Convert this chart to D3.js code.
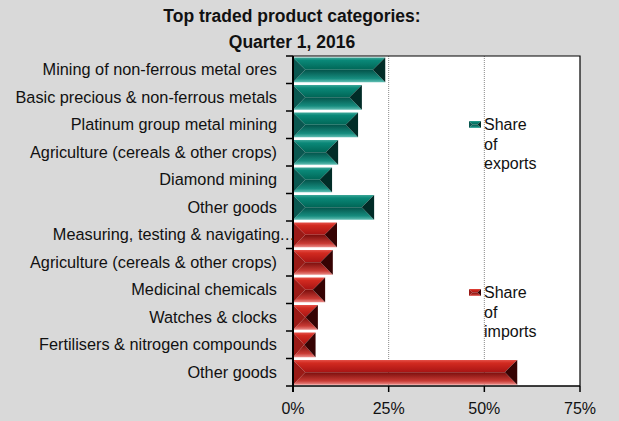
<!DOCTYPE html>
<html>
<head>
<meta charset="utf-8">
<script src="https://cdn.jsdelivr.net/npm/d3@7"></script>
<style>
  html, body { margin: 0; padding: 0; background: #d9d9d9; }
  svg { display: block; }
  text { font-family: "Liberation Sans", Arial, sans-serif; fill: #111; }
</style>
</head>
<body>
<svg id="chart" width="619" height="421"></svg>
<script>
const titleLines = ["Top traded product categories:", "Quarter 1, 2016"];
const exportCategories = [
  "Mining of non-ferrous metal ores",
  "Basic precious & non-ferrous metals",
  "Platinum group metal mining",
  "Agriculture (cereals & other crops)",
  "Diamond mining",
  "Other goods"
];
const exportValues = [24.1, 18.0, 17.0, 11.8, 10.2, 21.2];
const importCategories = [
  "Measuring, testing & navigating…",
  "Agriculture (cereals & other crops)",
  "Medicinal chemicals",
  "Watches & clocks",
  "Fertilisers & nitrogen compounds",
  "Other goods"
];
const importValues = [11.5, 10.4, 8.4, 6.5, 5.9, 58.6];
const xTicks = [0, 25, 50, 75];
const seriesNames = ["Share of exports", "Share of imports"];

const rows = [];
exportCategories.forEach((c, i) => rows.push({key: "e" + i, label: c, value: exportValues[i], s: 0}));
importCategories.forEach((c, i) => rows.push({key: "i" + i, label: c, value: importValues[i], s: 1}));

const svg = d3.select("#chart");
const M = {left: 293, right: 580, top: 56, bottom: 386};

const x = d3.scaleLinear().domain([0, 75]).range([M.left, M.right]);
const y = d3.scaleBand().domain(rows.map(d => d.key)).range([M.top, M.bottom])
  .paddingInner(0.1).paddingOuter(0.05);

const pal = [
  {top: ["#3fa89a", "#0a8878", "#006656"], bot: ["#03534a", "#168c7e", "#5fbdb2"], left: "#0a5750", right: "#012c27"},
  {top: ["#e5524a", "#d22a20", "#a81414"], bot: ["#7a0e0c", "#c83a34", "#eb8a86"], left: "#9a1a16", right: "#360303"}
];

const defs = svg.append("defs");
pal.forEach((p, i) => {
  const gt = defs.append("linearGradient").attr("id", "gt" + i).attr("x1", 0).attr("y1", 0).attr("x2", 0).attr("y2", 1);
  gt.append("stop").attr("offset", "0").attr("stop-color", p.top[0]);
  gt.append("stop").attr("offset", "0.25").attr("stop-color", p.top[1]);
  gt.append("stop").attr("offset", "1").attr("stop-color", p.top[2]);
  const gb = defs.append("linearGradient").attr("id", "gb" + i).attr("x1", 0).attr("y1", 0).attr("x2", 0).attr("y2", 1);
  gb.append("stop").attr("offset", "0").attr("stop-color", p.bot[0]);
  gb.append("stop").attr("offset", "0.7").attr("stop-color", p.bot[1]);
  gb.append("stop").attr("offset", "1").attr("stop-color", p.bot[2]);
});

svg.append("rect").attr("x", M.left).attr("y", M.top)
  .attr("width", M.right - M.left).attr("height", M.bottom - M.top).attr("fill", "#fff");

svg.append("g").selectAll("line").data(xTicks.filter(t => t > 0 && t < 75)).join("line")
  .attr("x1", d => x(d)).attr("x2", d => x(d)).attr("y1", M.top).attr("y2", M.bottom)
  .attr("stroke", "#8a8a8a").attr("stroke-width", 1).attr("stroke-dasharray", "1,1");

function bevel(g, x0, x1, y0, y1, s) {
  const p = pal[s];
  const m = (y0 + y1) / 2;
  const b = Math.min((y1 - y0) / 2, (x1 - x0) / 2);
  const pts = a => a.map(q => q.join(",")).join(" ");
  g.append("polygon").attr("points", pts([[x0, y0], [x1, y0], [x1 - b, m], [x0 + b, m]])).attr("fill", `url(#gt${s})`);
  g.append("polygon").attr("points", pts([[x0 + b, m], [x1 - b, m], [x1, y1], [x0, y1]])).attr("fill", `url(#gb${s})`);
  g.append("polygon").attr("points", pts([[x0, y0], [x0 + b, m], [x0, y1]])).attr("fill", p.left);
  g.append("polygon").attr("points", pts([[x1, y0], [x1 - b, m], [x1, y1]])).attr("fill", p.right);
}

const barsG = svg.append("g");
rows.forEach(d => {
  const g = barsG.append("g");
  bevel(g, x(0), x(d.value), y(d.key), y(d.key) + y.bandwidth(), d.s);
});

svg.append("path").attr("d", `M${M.left},${M.top}H${M.right}V${M.bottom}`)
  .attr("fill", "none").attr("stroke", "#000").attr("stroke-width", 1.2);

const yAxisG = svg.append("g");
yAxisG.append("line").attr("x1", M.left).attr("x2", M.left).attr("y1", M.top).attr("y2", M.bottom + 6)
  .attr("stroke", "#000").attr("stroke-width", 2);
const boundaries = rows.map(d => y(d.key) - y.step() * y.paddingInner() / 2);
boundaries[0] = M.top;
boundaries.push(M.bottom);
yAxisG.selectAll("line.tick").data(boundaries).join("line").attr("class", "tick")
  .attr("x1", M.left - 7).attr("x2", M.left).attr("y1", d => d).attr("y2", d => d)
  .attr("stroke", "#000").attr("stroke-width", 1.5);

rows.forEach(d => {
  const cy = y(d.key) + y.bandwidth() / 2 + 5.5;
  if (d.label.endsWith("…")) {
    svg.append("text").attr("x", 280).attr("y", cy).attr("text-anchor", "end")
      .attr("font-size", 16.3).text(d.label.slice(0, -1));
    svg.append("text").attr("x", 280).attr("y", cy).attr("text-anchor", "start")
      .attr("font-size", 16.3).attr("letter-spacing", 0.5).text("...");
  } else {
    svg.append("text").attr("x", 277).attr("y", cy).attr("text-anchor", "end")
      .attr("font-size", 16.3).text(d.label);
  }
});

const xAxisG = svg.append("g");
xAxisG.append("line").attr("x1", M.left).attr("x2", M.right).attr("y1", M.bottom).attr("y2", M.bottom)
  .attr("stroke", "#000").attr("stroke-width", 1.5);
xAxisG.selectAll("line.tick").data(xTicks).join("line").attr("class", "tick")
  .attr("x1", d => x(d)).attr("x2", d => x(d)).attr("y1", M.bottom).attr("y2", M.bottom + 6)
  .attr("stroke", "#000").attr("stroke-width", 1.5);
xAxisG.selectAll("text").data(xTicks).join("text")
  .attr("x", d => x(d)).attr("y", 414).attr("text-anchor", "middle")
  .attr("font-size", 16).text(d => d + "%");

svg.append("g").selectAll("text").data(titleLines).join("text")
  .attr("x", 292).attr("y", (d, i) => 22 + i * 26).attr("text-anchor", "middle")
  .attr("font-size", 17.5).attr("font-weight", "bold").text(d => d);

const legendPos = [{y: 121}, {y: 289}];
seriesNames.forEach((name, i) => {
  const g = svg.append("g");
  const ly = legendPos[i].y;
  bevel(g, 469, 481, ly, ly + 7, i);
  const words = name.split(" ");
  g.append("text").attr("font-size", 16).selectAll("tspan").data(words).join("tspan")
    .attr("x", 484).attr("y", (d, j) => ly + 9 + j * 19.5).text(d => d);
});
</script>
</body>
</html>
